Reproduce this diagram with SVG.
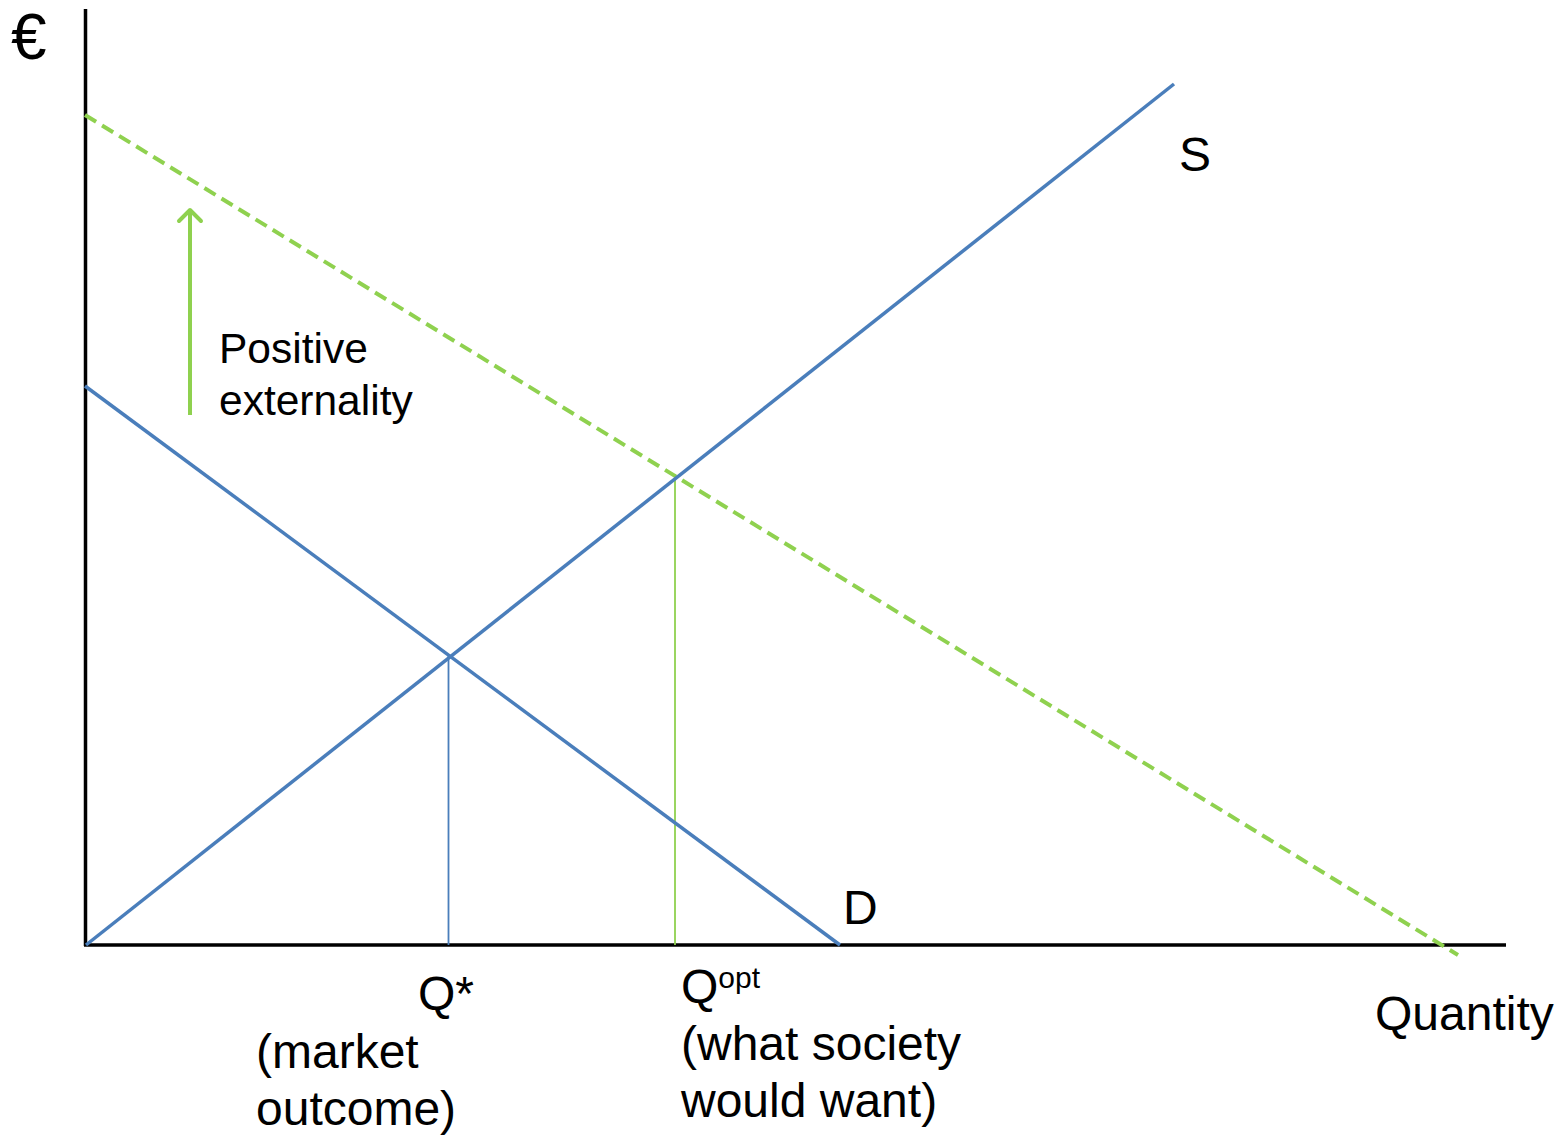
<svg xmlns="http://www.w3.org/2000/svg" width="1565" height="1135" viewBox="0 0 1565 1135">
  <defs>
    <style>
      text { font-family: "Liberation Sans", Arial, sans-serif; fill: #000; }
      .big { font-size: 48px; }
      .mid { font-size: 42.5px; }
      .axis { stroke: #000; stroke-width: 3.5; fill: none; }
      .curve { stroke: #4a7ebb; stroke-width: 3.5; fill: none; }
      .guide-blue { stroke: #4a7ebb; stroke-width: 1.8; fill: none; }
      .guide-green { stroke: #8fd14f; stroke-width: 1.8; fill: none; }
      .social { stroke: #8fd14f; stroke-width: 4; stroke-dasharray: 13 7; fill: none; }
      .shift { stroke: #8fd14f; stroke-width: 4; fill: none; }
    </style>
    <!-- open chevron head, drawn pointing along +x -->
    <marker id="openArrow" viewBox="0 0 26 28" refX="23" refY="14" markerWidth="26" markerHeight="28" markerUnits="userSpaceOnUse" orient="auto">
      <path d="M12 3 L23 14 L12 25" stroke="#8fd14f" stroke-width="4" fill="none" stroke-linecap="round" stroke-linejoin="round"/>
    </marker>
  </defs>

  <!-- axes -->
  <g id="axes">
    <line class="axis" x1="85.5" y1="9" x2="85.5" y2="946"/>
    <line class="axis" x1="84" y1="945" x2="1506" y2="945"/>
    <text x="11" y="59" font-size="64">€</text>
    <text class="big" x="1375" y="1030">Quantity</text>
  </g>

  <!-- curves and guide lines -->
  <g id="connectors">
    <line class="social" x1="85" y1="115" x2="1458" y2="955"/>
    <line class="guide-green" x1="675" y1="474" x2="675" y2="945"/>
    <line class="guide-blue" x1="448.5" y1="656" x2="448.5" y2="945"/>
    <line class="curve" x1="86" y1="945" x2="1174" y2="84"/>
    <line class="curve" x1="85" y1="386" x2="840" y2="945"/>
    <line class="shift" x1="190" y1="415" x2="190" y2="210" marker-end="url(#openArrow)"/>
  </g>

  <!-- curve labels -->
  <g id="supply-label">
    <text class="big" x="1179" y="171">S</text>
  </g>
  <g id="demand-label">
    <text class="big" x="843" y="924">D</text>
  </g>
  <g id="externality-label">
    <text class="mid" x="219" y="363">Positive</text>
    <text class="mid" x="219" y="415">externality</text>
  </g>

  <!-- quantity labels -->
  <g id="market-quantity">
    <text class="big" x="418" y="1010">Q*</text>
    <text class="big" x="256" y="1068">(market</text>
    <text class="big" x="256" y="1125">outcome)</text>
  </g>
  <g id="optimal-quantity">
    <text class="big" x="681" y="1003">Q<tspan font-size="30" dy="-15">opt</tspan></text>
    <text class="big" x="681" y="1060">(what society</text>
    <text class="big" x="681" y="1117">would want)</text>
  </g>
</svg>
